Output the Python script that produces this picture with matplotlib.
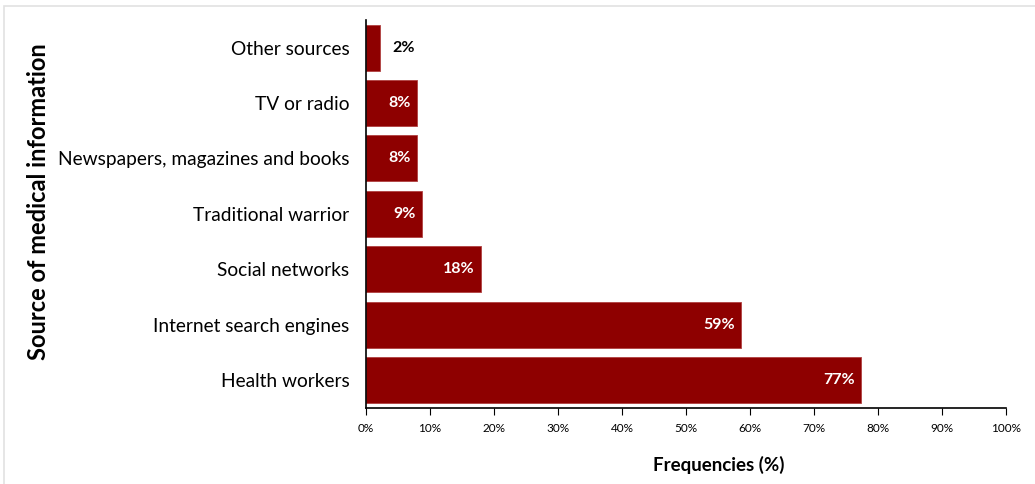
import matplotlib.pyplot as plt
from matplotlib.patches import Rectangle
from matplotlib.ticker import PercentFormatter

plt.rcParams['font.family'] = ['Lato', 'DejaVu Sans']

# sources, top to bottom as drawn
sources = [
    'Other sources',
    'TV or radio',
    'Newspapers, magazines and books',
    'Traditional warrior',
    'Social networks',
    'Internet search engines',
    'Health workers',
]
freq = [2.2, 8.0, 8.0, 8.7, 18.0, 58.6, 77.4]

bar_color = '#8e0000'

fig = plt.figure(figsize=(10.35, 4.84), dpi=100)
ax = fig.add_axes([0.3536, 0.157, 0.6184, 0.802])

# light frame around the panel
fig.patches.append(Rectangle((0.004, -0.01), 1.0, 0.998, transform=fig.transFigure,
                             fill=False, edgecolor='#e2e2e2', linewidth=1.2))

ypos = list(range(len(sources)))[::-1]
ax.barh(ypos, freq, height=0.83, color=bar_color, edgecolor='#b04040', linewidth=0.6)

for y, v in zip(ypos, freq):
    txt = f'{round(v)}%'
    if v < 5:
        ax.text(v + 2.0, y, txt, ha='left', va='center', fontsize=11.5,
                fontweight='bold', color='black')
    else:
        ax.text(v - 1.0, y, txt, ha='right', va='center', fontsize=11.5,
                fontweight='bold', color='white')

ax.set_xlim(0, 100)
ax.set_ylim(-0.5, 6.5)
ax.set_xticks(range(0, 101, 10))
ax.xaxis.set_major_formatter(PercentFormatter(decimals=0))
ax.tick_params(axis='x', labelsize=8.5, length=5, direction='out', pad=6)
ax.set_yticks(ypos)
ax.set_yticklabels(sources, fontsize=13.8)
ax.tick_params(axis='y', length=0, pad=12)

for side in ['top', 'right']:
    ax.spines[side].set_visible(False)
ax.spines['left'].set_linewidth(1.2)
ax.spines['bottom'].set_linewidth(1.2)

fig.text(0.694, 0.039, 'Frequencies (%)', ha='center', va='center',
         fontsize=13.5, fontweight='bold')
fig.text(0.037, 0.583, 'Source of medical information', rotation=90,
         ha='center', va='center', fontsize=17, fontweight='bold')

plt.savefig('out.png', dpi=100)
